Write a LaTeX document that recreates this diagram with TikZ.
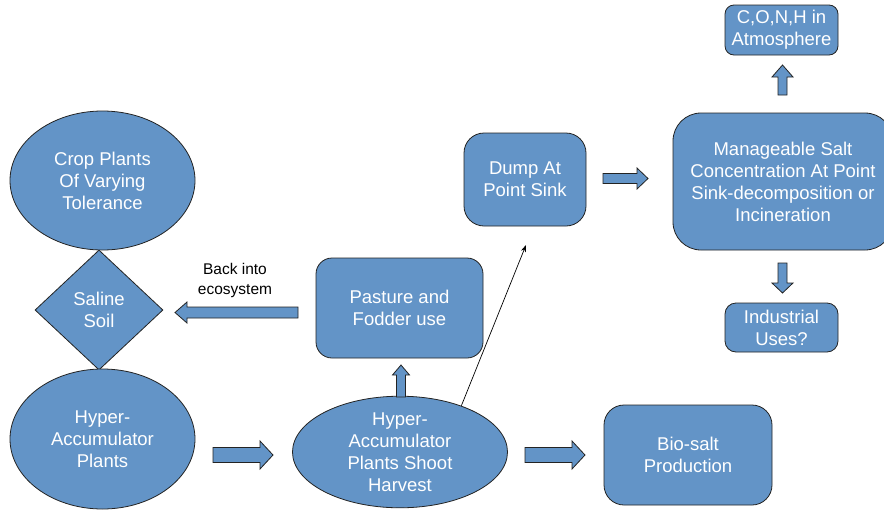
\documentclass[tikz,border=0pt]{standalone}
\usepackage{fontspec}
\setmainfont{Liberation Sans}
\usetikzlibrary{shapes.geometric,arrows.meta}
\definecolor{boxblue}{RGB}{99,148,199}
\definecolor{edge}{RGB}{35,35,35}
\tikzset{
  base/.style={draw=edge, line width=0.8pt, fill=boxblue, text=white, align=center,
    inner sep=0pt, font=\fontsize{18.5}{22}\selectfont},
  ell/.style={base, ellipse},
  rbox/.style={base, rectangle, rounded corners=#1},
  dia/.style={base, diamond},
  bfill/.style={draw=edge, line width=0.8pt, fill=boxblue, line join=miter},
  thinarrow/.style={draw=black, line width=0.7pt, -{Stealth[length=7pt,width=5pt]}},
  pics/barrow/.style n args={4}{code={
    \draw[bfill] (0,-#2) -- ({#1-#4},-#2) -- ({#1-#4},-#3) -- (#1,0) -- ({#1-#4},#3) -- ({#1-#4},#2) -- (0,#2) -- cycle;}}
}
\begin{document}
\begin{tikzpicture}[x=1pt,y=-1pt]
\useasboundingbox (0,0) rectangle (884,509);
\clip (0,0) rectangle (884,509);
% nodes
\node[ell, minimum width=185, minimum height=139] (crop) at (102.5,180.5) {Crop Plants\\Of Varying\\Tolerance};
\node[dia, minimum width=128, minimum height=120] (soil) at (99,310) {Saline\\Soil};
\node[ell, minimum width=185, minimum height=140] (hyper) at (102.5,439) {Hyper-\\Accumulator\\Plants};
\node[ell, minimum width=215, minimum height=108] (harvest) at (400,452) {Hyper-\\Accumulator\\Plants Shoot\\Harvest};
\node[rbox=16, minimum width=167, minimum height=100] (pasture) at (399.5,308) {Pasture and\\Fodder use};
\node[rbox=20, minimum width=122, minimum height=93] (dump) at (525,179.5) {Dump At\\Point Sink};
\node[rbox=28, minimum width=220, minimum height=137] (manage) at (783,181.5) {Manageable Salt\\Concentration At Point\\Sink-decomposition or\\Incineration};
\node[rbox=9, minimum width=113, minimum height=50] (conh) at (781.5,30) {C,O,N,H in\\Atmosphere};
\node[rbox=11, minimum width=113, minimum height=49] (indus) at (781.5,327.5) {Industrial\\Uses?};
\node[rbox=20, minimum width=168, minimum height=100] (biosalt) at (688,455) {Bio-salt\\Production};
\node[align=center, font=\fontsize{15.5}{20}\selectfont, text=black] (backlbl) at (235,280) {Back into\\ecosystem};
% block arrows
\pic at (213,455) {barrow={60}{7.5}{14}{13}};
\pic at (525,455) {barrow={60}{7.5}{14}{13}};
\pic[rotate=90] at (401,397) {barrow={32}{4.5}{8.5}{10}};
\pic[rotate=180] at (298,312.5) {barrow={123}{5.5}{10.5}{12}};
\pic at (603,178.5) {barrow={45}{5}{10.5}{11}};
\pic[rotate=90] at (782.5,95) {barrow={30}{4.5}{10.5}{12}};
\pic[rotate=-90] at (782.5,263) {barrow={30}{4.5}{10.5}{10}};
% thin arrow
\coordinate (thinend) at (526,245);
\draw[thinarrow] (harvest.37) -- (thinend);
\end{tikzpicture}
\end{document}
